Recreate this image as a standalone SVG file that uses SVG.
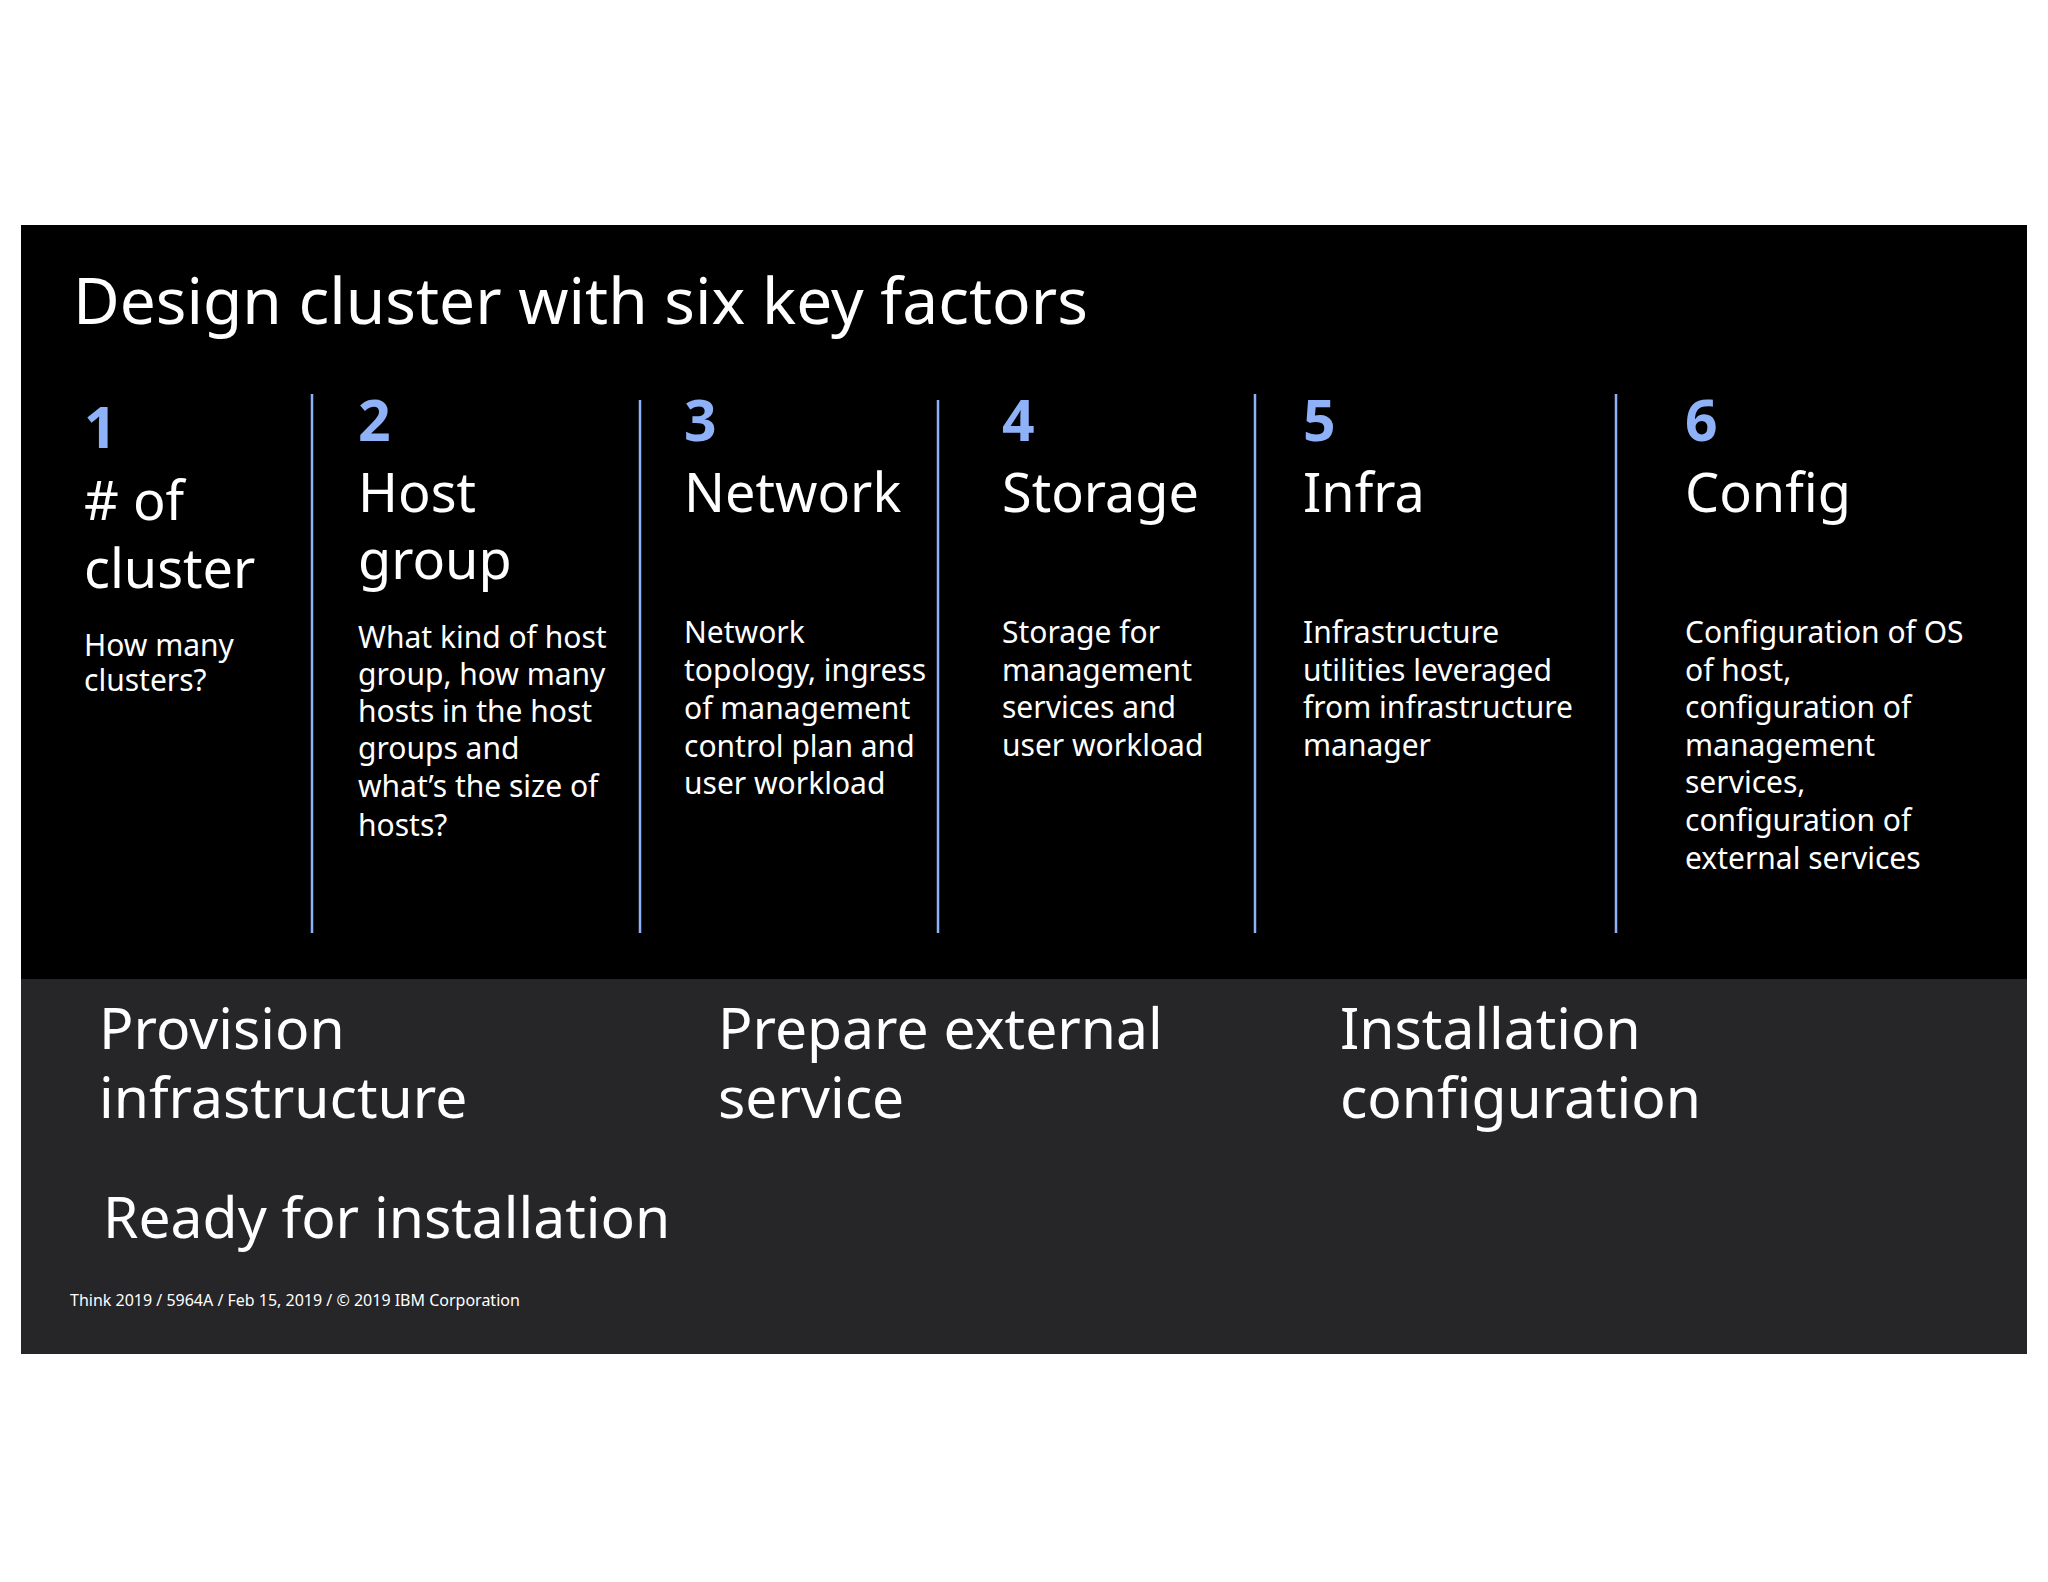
<svg xmlns="http://www.w3.org/2000/svg" width="2048" height="1582" viewBox="0 0 2048 1582">
<style>
text{font-family:"Noto Sans","Open Sans",sans-serif;fill:#fff}
.n{fill:#8fb1f7;font-size:57px;font-weight:bold}
.h{font-size:54px}
.b{font-size:30px}
.bt{font-size:57px}
.d{stroke:#8fb1f7;stroke-width:2.5}
</style>
<rect width="2048" height="1582" fill="#fff"/>
<rect x="21" y="225" width="2006" height="754" fill="#000"/>
<rect x="21" y="979" width="2006" height="375" fill="#262528"/>
<text x="73" y="324" font-size="64">Design cluster with six key factors</text>
<g id="connectors">
<line class="d" x1="312" y1="394" x2="312" y2="933"/>
<line class="d" x1="640" y1="400" x2="640" y2="933"/>
<line class="d" x1="938" y1="400" x2="938" y2="933"/>
<line class="d" x1="1255" y1="394" x2="1255" y2="933"/>
<line class="d" x1="1616" y1="394" x2="1616" y2="933"/>
</g>
<g id="f1"><text class="n" x="84" y="448">1</text><text class="h" x="84" y="520">#  of</text><text class="h" x="84" y="588">cluster</text>
<text class="b" x="84" y="656">How many</text><text class="b" x="84" y="691">clusters?</text></g>
<g id="f2"><text class="n" x="358" y="441">2</text><text class="h" x="358" y="512">Host</text><text class="h" x="358" y="579">group</text>
<text class="b"><tspan x="358" y="648">What kind of host</tspan><tspan x="358" y="685">group, how many</tspan><tspan x="358" y="722">hosts in the host</tspan><tspan x="358" y="759">groups and</tspan><tspan x="358" y="797">what’s the size of</tspan><tspan x="358" y="836">hosts?</tspan></text></g>
<g id="f3"><text class="n" x="684" y="441">3</text><text class="h" x="684" y="512">Network</text>
<text class="b"><tspan x="684" y="643">Network</tspan><tspan x="684" y="681">topology, ingress</tspan><tspan x="684" y="719">of management</tspan><tspan x="684" y="757">control plan and</tspan><tspan x="684" y="794">user workload</tspan></text></g>
<g id="f4"><text class="n" x="1002" y="441">4</text><text class="h" x="1002" y="512">Storage</text>
<text class="b"><tspan x="1002" y="643">Storage for</tspan><tspan x="1002" y="681">management</tspan><tspan x="1002" y="718">services and</tspan><tspan x="1002" y="756">user workload</tspan></text></g>
<g id="f5"><text class="n" x="1303" y="441">5</text><text class="h" x="1303" y="512">Infra</text>
<text class="b"><tspan x="1303" y="643">Infrastructure</tspan><tspan x="1303" y="681">utilities leveraged</tspan><tspan x="1303" y="718">from infrastructure</tspan><tspan x="1303" y="756">manager</tspan></text></g>
<g id="f6"><text class="n" x="1685" y="441">6</text><text class="h" x="1685" y="512">Config</text>
<text class="b"><tspan x="1685" y="643">Configuration of OS</tspan><tspan x="1685" y="681">of host,</tspan><tspan x="1685" y="718">configuration of</tspan><tspan x="1685" y="756">management</tspan><tspan x="1685" y="793">services,</tspan><tspan x="1685" y="831">configuration of</tspan><tspan x="1685" y="869">external services</tspan></text></g>
<g id="bottom">
<text class="bt" x="99" y="1049">Provision</text><text class="bt" x="99" y="1118">infrastructure</text>
<text class="bt" x="718" y="1049">Prepare external</text><text class="bt" x="718" y="1118">service</text>
<text class="bt" x="1340" y="1049">Installation</text><text class="bt" x="1340" y="1118">configuration</text>
<text class="bt" x="103" y="1238">Ready for installation</text>
<text x="70" y="1306" font-size="16">Think  2019  /  5964A / Feb  15, 2019  /  © 2019 IBM  Corporation</text>
</g>
</svg>
